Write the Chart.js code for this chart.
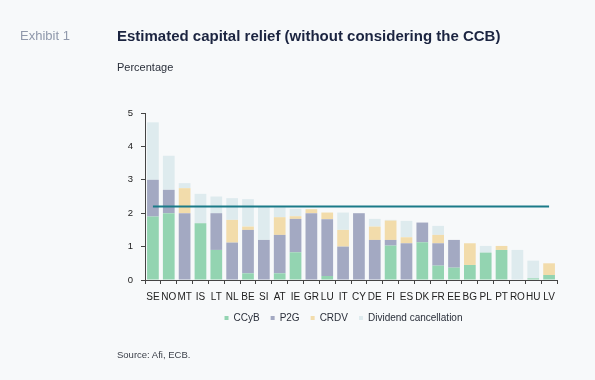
<!DOCTYPE html>
<html>
<head>
<meta charset="utf-8">
<script src="https://cdn.jsdelivr.net/npm/chart.js@4"></script>
<style>
  html, body { margin:0; padding:0; background:#f7f9fa; }
  body { width:595px; height:380px; position:relative; overflow:hidden; font-family:"Liberation Sans", Arial, sans-serif; }
  #wrap { position:absolute; left:0; top:0; width:595px; height:380px; }
  .t { position:absolute; white-space:nowrap; }
  #exh { left:20px; top:28px; font-size:13px; color:#8f98ab; }
  #title { left:117px; top:27px; font-size:15px; font-weight:bold; color:#1b2440; }
  #sub { left:117px; top:61px; font-size:11px; color:#2a2f3a; }
  #src { left:117px; top:349px; font-size:9.5px; color:#3a3f48; }
</style>
</head>
<body>
<div id="wrap"><canvas id="c" width="595" height="380"></canvas></div>
<div class="t" id="exh">Exhibit 1</div>
<div class="t" id="title">Estimated capital relief (without considering the CCB)</div>
<div class="t" id="sub">Percentage</div>
<div class="t" id="src">Source: Afi, ECB.</div>
<script>
const categories = ["SE","NO","MT","IS","LT","NL","BE","SI","AT","IE","GR","LU","IT","CY","DE","FI","ES","DK","FR","EE","BG","PL","PT","RO","HU","LV"];
const ccyb     = [1.9, 2.0, 0, 1.7, 0.9, 0, 0.2, 0, 0.2, 0.83, 0, 0.12, 0, 0, 0, 1.03, 0, 1.13, 0.43, 0.37, 0.45, 0.82, 0.9, 0, 0.05, 0.15];
const p2g      = [1.1, 0.7, 2.0, 0, 1.1, 1.12, 1.3, 1.2, 1.15, 1.0, 2.0, 1.7, 1.0, 2.0, 1.2, 0.17, 1.1, 0.59, 0.67, 0.83, 0, 0, 0, 0, 0, 0];
const crdv     = [0, 0, 0.75, 0, 0, 0.68, 0.1, 0, 0.53, 0.08, 0.12, 0.2, 0.5, 0, 0.4, 0.58, 0.18, 0, 0.25, 0, 0.65, 0, 0.12, 0, 0, 0.35];
const dividend = [1.72, 1.02, 0.15, 0.88, 0.5, 0.65, 0.82, 1.0, 0.3, 0.22, 0, 0, 0.52, 0, 0.23, 0.02, 0.49, 0, 0.27, 0, 0, 0.2, 0, 0.9, 0.53, 0];
const reference = categories.map(() => 2.2);
const yTicks = [0, 1, 2, 3, 4, 5];

const fam = "Liberation Sans, Arial, sans-serif";
const shiftLegend = {
  id: 'shiftLegend',
  afterLayout(chart) {
    if (chart.legend) { chart.legend.left += 9; chart.legend.right += 9; }
  }
};
new Chart(document.getElementById('c'), {
  type: 'bar',
  plugins: [shiftLegend],
  data: {
    labels: categories,
    datasets: [
      { type:'line', label:'Reference', data: reference, borderColor:'#1b7b88', borderWidth:2, pointRadius:0, fill:false, stack:'line', order:0 },
      { label:'CCyB', data: ccyb, backgroundColor:'#93d4b1', stack:'s', order:1 },
      { label:'P2G', data: p2g, backgroundColor:'#a3a9c2', stack:'s', order:1 },
      { label:'CRDV', data: crdv, backgroundColor:'#f2dcab', stack:'s', order:1 },
      { label:'Dividend cancellation', data: dividend, backgroundColor:'#deebee', stack:'s', order:1 }
    ]
  },
  options: {
    responsive:false, animation:false,
    layout: { padding: { left: 112, right: 38, top: 113, bottom: 47 } },
    datasets: { bar: { categoryPercentage: 1, barPercentage: 0.74 } },
    plugins: {
      legend: {
        position:'bottom',
        labels: {
          filter: (item) => item.text !== 'Reference',
          usePointStyle:true, pointStyle:'rect', boxWidth:4, boxHeight:4,
          font: { family: fam, size: 10 }, color:'#2a2f3a', padding: 11
        }
      },
      tooltip: { enabled:false }
    },
    scales: {
      x: {
        stacked:true,
        afterFit: (s) => { s.height -= 8; },
        grid: { display:true, drawOnChartArea:false, drawTicks:true, tickLength:4, color:'#444', offset:true },
        border: { display:true, color:'#444' },
        ticks: { font: { family: fam, size: 10 }, color:'#222', padding:7, maxRotation:0, autoSkip:false }
      },
      y: {
        stacked:true, min:0, max:5,
        afterBuildTicks: (s) => { s.ticks = yTicks.map(v => ({ value: v })); },
        afterFit: (s) => { s.width = 33; },
        grid: { display:true, drawOnChartArea:false, drawTicks:true, tickLength:4, color:'#444' },
        border: { display:true, color:'#444' },
        ticks: { font: { family: fam, size: 9.5 }, color:'#222', padding:8 }
      }
    }
  }
});
</script>
</body>
</html>
